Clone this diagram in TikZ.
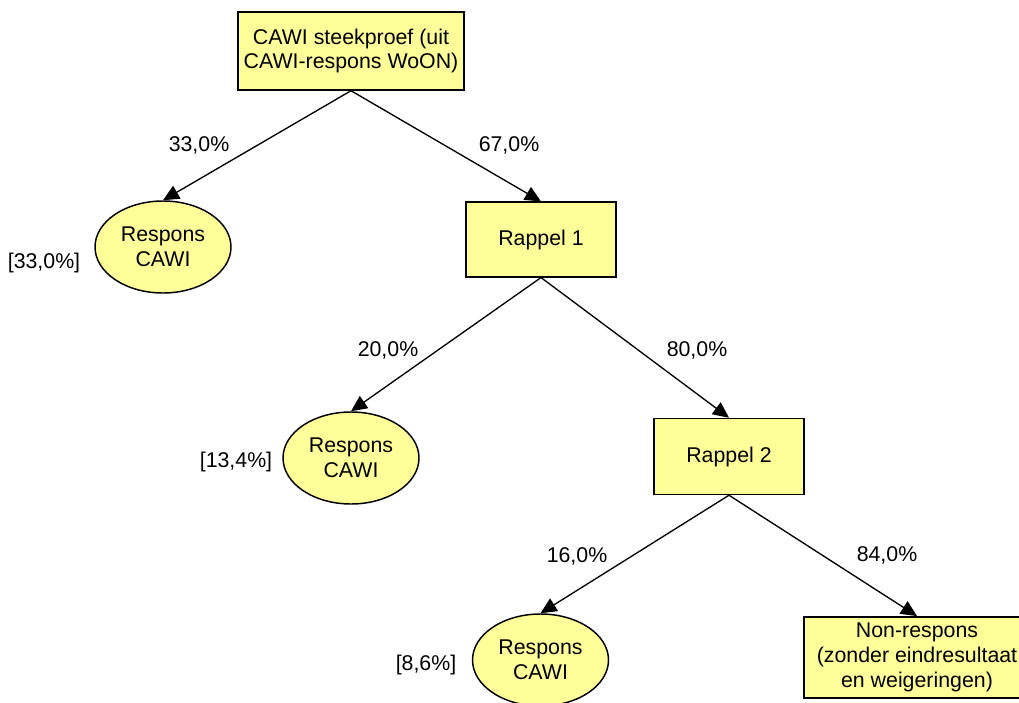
\documentclass[tikz,border=0pt]{standalone}
\usepackage{fontspec}
\setmainfont{Liberation Sans}
\usepackage{xcolor}
\definecolor{paleyellow}{HTML}{FFFF99}
\usetikzlibrary{arrows.meta, shapes.geometric}

\begin{document}
\begin{tikzpicture}[x=0.75pt, y=-0.75pt,
  every node/.style={font=\fontsize{16}{18.5}\selectfont},
  stepbox/.style={draw, line width=1.1pt, fill=paleyellow, align=center, inner sep=0pt},
  respons/.style={draw, ellipse, line width=1.1pt, fill=paleyellow, align=center, inner sep=0pt, minimum width=102pt, minimum height=69pt},
  flow/.style={-{Triangle[length=12pt, width=11pt]}, line width=1pt}]
  \useasboundingbox (0,0) rectangle (1019,702);

  % Sample box
  \node[stepbox, minimum width=169.5pt, minimum height=58.5pt] (sample) at (351,51) {CAWI steekproef (uit\\CAWI-respons WoON)};
  % Response and reminder nodes
  \node[respons] (resp1) at (163,247) {Respons\\CAWI};
  \node[stepbox, minimum width=112.5pt, minimum height=56pt] (rappel1) at (541,239.5) {Rappel 1};
  \node[respons] (resp2) at (351,458) {Respons\\CAWI};
  \node[stepbox, minimum width=112.5pt, minimum height=57pt] (rappel2) at (729,456.5) {Rappel 2};
  \node[respons] (resp3) at (540.5,660) {Respons\\CAWI};
  \node[stepbox, minimum width=169.5pt, minimum height=61pt] (nonresp) at (917,657.5) {Non-respons\\(zonder eindresultaat\\en weigeringen)};

  % Cumulative shares
  \node (cum1) at (44,263) {[33,0\%]};
  \node (cum2) at (236,462) {[13,4\%]};
  \node (cum3) at (426,665) {[8,6\%]};

  % Branch shares
  \node (p1) at (199,145) {33,0\%};
  \node (p2) at (509,145) {67,0\%};
  \node (p3) at (388,350) {20,0\%};
  \node (p4) at (697,350) {80,0\%};
  \node (p5) at (577,556) {16,0\%};
  \node (p6) at (887,555) {84,0\%};

  % Arrows
  \draw[flow] (sample.south) -- (resp1.north);
  \draw[flow] (sample.south) -- (rappel1.north);
  \draw[flow] (rappel1.south) -- (resp2.north);
  \draw[flow] (rappel1.south) -- (rappel2.north);
  \draw[flow] (rappel2.south) -- (resp3.north);
  \draw[flow] (rappel2.south) -- (nonresp.north);
\end{tikzpicture}
\end{document}
